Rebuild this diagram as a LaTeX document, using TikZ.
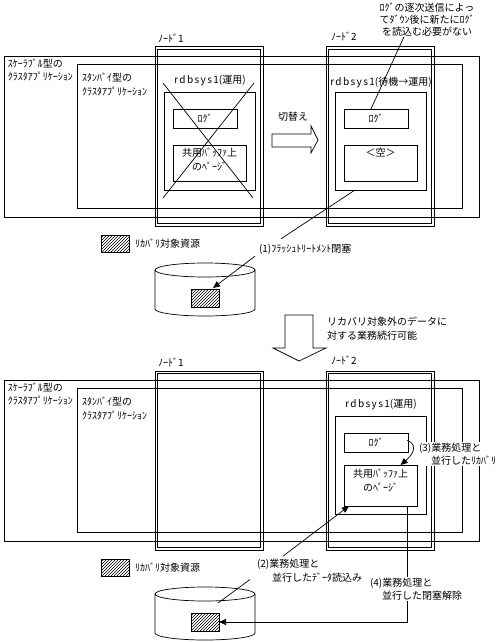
\documentclass[tikz,border=0pt]{standalone}
\usepackage{fontspec}
\newfontfamily\jp{Noto Sans CJK JP}
\newfontfamily\jpsp[LetterSpace=14]{Noto Sans CJK JP}
\usetikzlibrary{patterns,arrows.meta,calc}
\begin{document}
\begin{tikzpicture}[x=1pt,y=-1pt,line width=0.7pt,
  txt/.style={font=\jp\fontsize{10}{13.5}\selectfont,inner sep=0pt,outer sep=0pt},
  wtxt/.style={txt,fill=white,inner sep=1pt},
  frame/.style={draw,line width=0.8pt,anchor=north west,inner sep=0pt,outer sep=0pt},
  nodeout/.style={draw,line width=1.0pt,anchor=north west,inner sep=0pt,outer sep=0pt,minimum width=108pt,minimum height=179pt},
  nodein/.style={draw,line width=0.6pt,anchor=north west,inner sep=0pt,outer sep=0pt,minimum width=103pt,minimum height=174pt},
  hatch/.style={draw,line width=0.7pt,pattern=north east lines,anchor=north west,inner sep=0pt,outer sep=0pt,minimum width=28pt,minimum height=18pt},
  tip/.style={-{Triangle[length=7pt,width=6pt]}}]
\useasboundingbox (0,0) rectangle (502,642);

% ================= TOP =================
\node[frame,minimum width=475pt,minimum height=161pt] (scal1) at (4,56) {};
\node[frame,minimum width=385pt,minimum height=144pt] (stb1) at (77,64) {};
\node[nodeout] (n1o) at (155,47) {};
\node[nodein] (n1i) at (157.5,49.5) {};
\node[nodeout] (n2o) at (326,47) {};
\node[nodein] (n2i) at (328.5,49.5) {};
\node[txt,anchor=west] (n1lab) at (158,38) {ﾉｰﾄﾞ1};
\node[txt,anchor=west] (n2lab) at (331,36) {ﾉｰﾄﾞ2};
\node[txt,anchor=west,align=left] (scalt1) at (8,70) {ｽｹｰﾗﾌﾞﾙ型の\\ｸﾗｽﾀｱﾌﾟﾘｹｰｼｮﾝ};
\node[txt,anchor=west,align=left] (stbt1) at (82,84.5) {ｽﾀﾝﾊﾞｲ型の\\ｸﾗｽﾀｱﾌﾟﾘｹｰｼｮﾝ};

\node[txt] (rdb1) at (210,81) {{\jpsp rdbsys1}(運用)};
\node[frame,minimum width=91pt,minimum height=98pt] (in1) at (164,92) {};
\node[frame,minimum width=64pt,minimum height=19pt] (log1) at (173,109) {};
\node[txt] (log1t) at (log1.center) {ﾛｸﾞ};
\node[frame,minimum width=73pt,minimum height=36pt] (buf1) at (173,145) {};
\node[txt,align=center] (buf1t) at (209.5,159.5) {共用ﾊﾞｯﾌｧ上\\のﾍﾟｰｼﾞ};
\draw (163,83) -- (253,198);
\draw (254,83) -- (163,198);

\node[txt] (rdb2) at (381,82) {{\jpsp rdbsys1}(待機→運用)};
\node[frame,minimum width=91pt,minimum height=98pt] (in2) at (335,92) {};
\node[frame,minimum width=64pt,minimum height=19pt] (log2) at (344,109) {};
\node[txt] (log2t) at (log2.center) {ﾛｸﾞ};
\node[frame,minimum width=73pt,minimum height=36pt] (buf2) at (344,145) {};
\node[txt] (buf2t) at (380.5,153) {＜空＞};

\node[txt,align=center,font=\jp\fontsize{10}{12}\selectfont] (ann) at (427,20) {ﾛｸﾞの逐次送信によっ\\てﾀﾞｳﾝ後に新たにﾛｸﾞ\\を読込む必要がない};
\draw ($(ann.south)+(-23,0)$) -- ($(log2.north)+(-5,0)$);

\node[txt] (sw) at (293,117) {切替え};
\draw (272,134) -- (311,134) -- (311,126) -- (318,140) -- (311,153) -- (311,147) -- (272,147) -- cycle;

\node[hatch,minimum height=17pt] (leg1) at (101,235) {};
\node[txt,anchor=west] (leg1t) at (135,243.5) {ﾘｶﾊﾞﾘ対象資源};

\draw (155,270) -- (155,309) arc[start angle=180,end angle=0,x radius=50,y radius=7] -- (255,270);
\draw (205,270) ellipse [x radius=50,y radius=7];
\node[hatch] (res1) at (191,289) {};

\node[txt,anchor=west] (lbl1) at (259,249) {(1)ﾌﾗｯｼｭﾄﾘｰﾄﾒﾝﾄ閉塞};
\draw ($(in2.south west)+(20,0)$) -- ($(lbl1.north west)+(22,-5)$);
\draw[tip] ($(lbl1.south west)+(-4,2)$) -- ($(res1.north)+(8,-1)$);

% ================= MIDDLE =================
\draw (285,315) -- (313,315) -- (313,348) -- (326,348) -- (299,361) -- (273,348) -- (285,348) -- cycle;
\node[txt,anchor=west,align=left] (mid) at (327,328.5) {リカバリ対象外のデータに\\対する業務続行可能};

% ================= BOTTOM =================
\node[frame,minimum width=475pt,minimum height=161pt] (scal2) at (4,380) {};
\node[frame,minimum width=385pt,minimum height=144pt] (stb2) at (77,388) {};
\node[nodeout] (n3o) at (155,371) {};
\node[nodein] (n3i) at (157.5,373.5) {};
\node[nodeout] (n4o) at (326,371) {};
\node[nodein] (n4i) at (328.5,373.5) {};
\node[txt,anchor=west] (n3lab) at (158,362) {ﾉｰﾄﾞ1};
\node[txt,anchor=west] (n4lab) at (331,360) {ﾉｰﾄﾞ2};
\node[txt,anchor=west,align=left] (scalt2) at (8,394) {ｽｹｰﾗﾌﾞﾙ型の\\ｸﾗｽﾀｱﾌﾟﾘｹｰｼｮﾝ};
\node[txt,anchor=west,align=left] (stbt2) at (82,408.5) {ｽﾀﾝﾊﾞｲ型の\\ｸﾗｽﾀｱﾌﾟﾘｹｰｼｮﾝ};

\node[txt] (rdb3) at (381,405) {{\jpsp rdbsys1}(運用)};
\node[frame,minimum width=91pt,minimum height=98pt] (in3) at (335,416) {};
\node[frame,minimum width=64pt,minimum height=19pt] (log3) at (344,433) {};
\node[txt] (log3t) at (log3.center) {ﾛｸﾞ};
\node[frame,minimum width=73pt,minimum height=41pt] (buf3) at (344,465) {};
\node[txt,align=center] (buf3t) at (380.5,480.5) {共用ﾊﾞｯﾌｧ上\\のﾍﾟｰｼﾞ};

\node[wtxt,anchor=west,align=left] (lbl3) at (418,454) {(3)業務処理と\\\hspace*{12pt}並行したﾘｶﾊﾞﾘ};
\draw[tip] ($(log3.east)+(-1,-2)$) .. controls (416,443) and (416,452) .. ($(buf3.north)+(20,0)$);

\node[hatch,minimum height=17pt] (leg2) at (101,559) {};
\node[txt,anchor=west] (leg2t) at (135,567.5) {ﾘｶﾊﾞﾘ対象資源};

\draw (155,594) -- (155,633) arc[start angle=180,end angle=0,x radius=50,y radius=7] -- (255,594);
\draw (205,594) ellipse [x radius=50,y radius=7];
\node[hatch] (res2) at (191,613) {};
\coordinate (cyl2) at (218,603);

\node[txt,anchor=west,align=left] (lbl2) at (257,570.5) {(2)業務処理と\\\hspace*{15pt}並行したﾃﾞｰﾀ読込み};
\draw[tip] ($(lbl2.north west)+(26,-3)$) -- ($(buf3.south west)+(5,0)$);
\draw (cyl2) -- ($(lbl2.west)+(-7,9)$);

\draw[tip] ($(buf3.south east)+(-10,0)$) |- (res2.east);
\node[wtxt,anchor=west,align=left] (lbl4) at (369,589) {(4)業務処理と\\\hspace*{12pt}並行した閉塞解除};
\end{tikzpicture}
\end{document}
